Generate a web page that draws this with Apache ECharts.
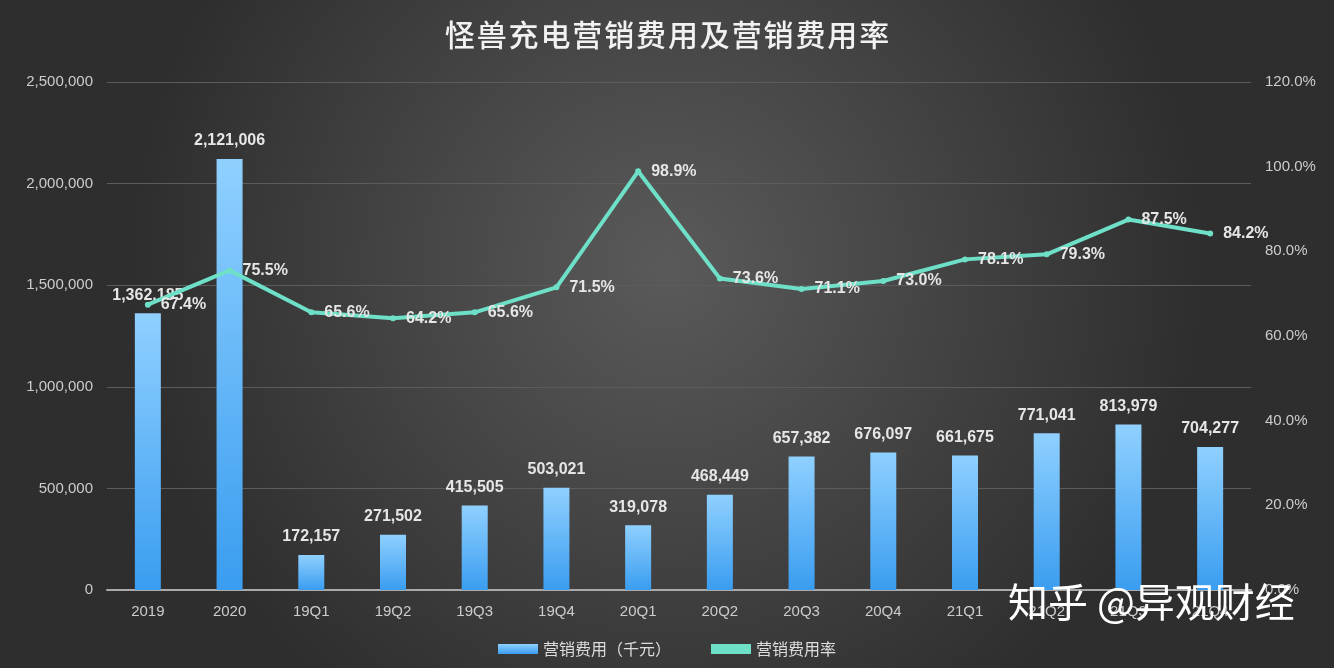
<!DOCTYPE html>
<html><head><meta charset="utf-8">
<script src="https://cdn.jsdelivr.net/npm/echarts@6/dist/echarts.min.js"></script>
<style>html,body{margin:0;padding:0;}#c{width:1334px;height:668px;}</style>
</head><body><div id="c"></div>
<script>
const categories = ['2019','2020','19Q1','19Q2','19Q3','19Q4','20Q1','20Q2','20Q3','20Q4','21Q1','21Q2','21Q3','21Q4'];
const expense = [1362185,2121006,172157,271502,415505,503021,319078,468449,657382,676097,661675,771041,813979,704277];
const rate = [67.4,75.5,65.6,64.2,65.6,71.5,98.9,73.6,71.1,73.0,78.1,79.3,87.5,84.2];
const chart = echarts.init(document.getElementById('c'));
const fnt = '"Noto Sans CJK SC", sans-serif';
const lat = '"Liberation Sans", Arial, sans-serif';
chart.setOption({
  backgroundColor: {type:'radial',x:0.5,y:0.4,r:0.8,colorStops:[{offset:0,color:'#5a5a5a'},{offset:1,color:'#2e2e2e'}]},
  textStyle:{fontFamily:fnt},
  graphic:[
    {type:'text',left:'center',top:20,z:100,style:{text:'怪兽充电营销费用及营销费用率'.split('').join('\u200a'),fill:'#f2f2f2',font:'500 30px "Noto Sans CJK SC"'}},
    {type:'text',left:1008,top:582,z:100,style:{text:'知乎 @异观财经',fill:'#ffffff',font:'40px "Noto Sans CJK SC"',
     shadowColor:'rgba(0,0,0,0.7)',shadowBlur:4,shadowOffsetX:2,shadowOffsetY:2}}],
  grid:{left:107,right:83,top:82,bottom:78},
  legend:{bottom:6,left:'center',itemGap:40,textStyle:{color:'#dddddd',fontSize:16},
    data:[{name:'营销费用（千元）',icon:'rect'},{name:'营销费用率',icon:'rect'}],itemWidth:40,itemHeight:10},
  xAxis:{type:'category',data:categories,axisLine:{lineStyle:{color:'#aaaaaa',width:2}},axisTick:{show:false},
    axisLabel:{color:'#cccccc',fontSize:15,margin:14,fontFamily:lat}},
  yAxis:[
    {type:'value',min:0,max:2500000,interval:500000,axisLine:{show:false},axisTick:{show:false},
     splitLine:{lineStyle:{color:'#5c5c5c'}},
     axisLabel:{color:'#cccccc',fontSize:15,margin:14,fontFamily:lat,formatter:v=>v.toLocaleString('en-US')}},
    {type:'value',min:0,max:120,interval:20,axisLine:{show:false},axisTick:{show:false},splitLine:{show:false},
     axisLabel:{color:'#cccccc',fontSize:15,margin:14,fontFamily:lat,formatter:v=>v.toFixed(1)+'%'}}
  ],
  series:[
    {name:'营销费用（千元）',type:'bar',data:expense,barWidth:26,
     itemStyle:{color:{type:'linear',x:0,y:0,x2:0,y2:1,colorStops:[{offset:0,color:'#8fd0ff'},{offset:1,color:'#3a9df0'}]}},
     label:{show:true,position:'top',distance:10,color:'#e6e6e6',fontSize:16,fontWeight:'bold',fontFamily:lat,
       formatter:p=>p.value.toLocaleString('en-US')}},
    {name:'营销费用率',type:'line',yAxisIndex:1,data:rate,symbol:'circle',symbolSize:6,
     lineStyle:{color:'#6fe0c8',width:4},itemStyle:{color:'#6fe0c8'},
     label:{show:true,position:'right',distance:10,color:'#e6e6e6',fontSize:16,fontWeight:'bold',fontFamily:lat,
       formatter:p=>p.value.toFixed(1)+'%'}}
  ]
});
</script></body></html>
